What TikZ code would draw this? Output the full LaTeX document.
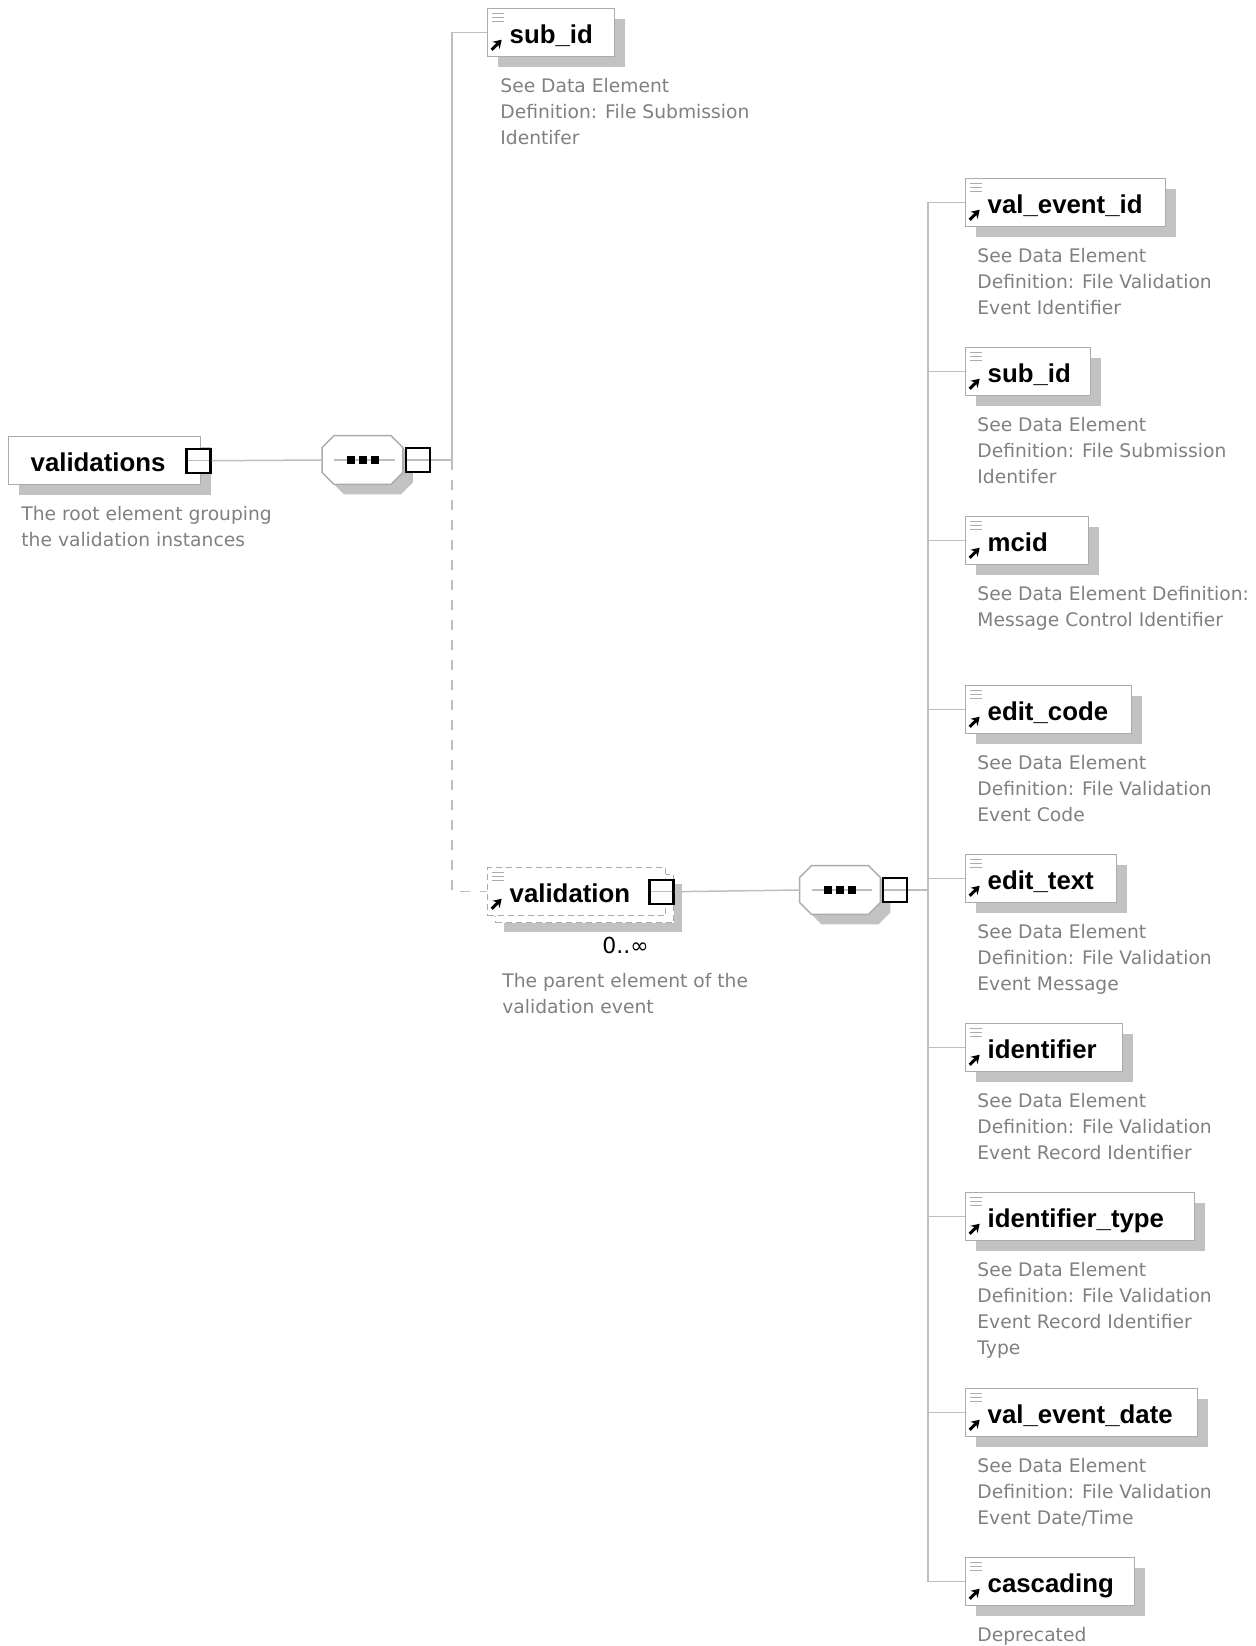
\documentclass[tikz,border=0pt]{standalone}
\usepackage{fontspec}
\setmainfont{DejaVu Sans}
\newfontfamily\lblfont{Liberation Sans}
\usepackage{tikz}
\usetikzlibrary{calc}
\usetikzlibrary{arrows.meta,shadows}
\usetikzlibrary{positioning}
\definecolor{linegray}{HTML}{BEBEBE}
\definecolor{boxgray}{HTML}{ABABAB}
\definecolor{shadowgray}{HTML}{C2C2C2}
\definecolor{descgray}{HTML}{808080}
\newcommand{\descfont}{\fontsize{9.35pt}{13pt}\selectfont}
\newcommand{\elemfont}{\lblfont\bfseries\fontsize{12.9pt}{15pt}\selectfont}
% octagon of a sequence compositor, drawn round an empty node
\newcommand{\seqdraw}[1]{%
  \fill[shadowgray, transform canvas={shift={(5pt,-5pt)}}]
    ([xshift=6pt]#1.north west) -- ([xshift=-6pt]#1.north east) -- ([yshift=-6pt]#1.north east)
    -- ([yshift=6pt]#1.south east) -- ([xshift=-6pt]#1.south east) -- ([xshift=6pt]#1.south west)
    -- ([yshift=6pt]#1.south west) -- ([yshift=-6pt]#1.north west) -- cycle;
  \draw[boxgray, line width=0.7pt, fill=white]
    ([xshift=6pt]#1.north west) -- ([xshift=-6pt]#1.north east) -- ([yshift=-6pt]#1.north east)
    -- ([yshift=6pt]#1.south east) -- ([xshift=-6pt]#1.south east) -- ([xshift=6pt]#1.south west)
    -- ([yshift=6pt]#1.south west) -- ([yshift=-6pt]#1.north west) -- cycle;
  \draw[linegray, line width=0.6pt] ([xshift=6pt]#1.west) -- ([xshift=-4pt]#1.east);
  \foreach \dx in {-16,-4,8}
    \fill[black] ([shift={(\dx,-4)}]#1.center) rectangle ++(8,8);
}

\tikzset{
  conn/.style={linegray, line width=0.75pt},
  elembase/.style={draw=boxgray, line width=0.7pt, fill=white, anchor=north west,
    minimum height=24pt, inner xsep=11pt, inner ysep=0pt, text width=#1, align=left,
    text height=13pt, text depth=2.5pt, font=\elemfont},
  elembox/.style={elembase=#1,
    drop shadow={shadow xshift=5pt, shadow yshift=-5pt, fill=shadowgray, opacity=1}},
  icons/.style={path picture={
      \foreach \dy in {5,9,13}
        \draw[boxgray, line width=0.6pt, solid]
          ([shift={(4,\dy)}]path picture bounding box.north west) -- ++(12,0);
      \draw[black, line width=1.5pt, solid, -{Stealth[length=4pt,width=5pt]}]
        ([shift={(4,41)}]path picture bounding box.north west) -- ++(10,-10);}},
  refbox/.style={elembox=#1, icons},
  multibox/.style={elembase=#1, icons, dash pattern=on 3pt off 2pt,
    drop shadow={shadow xshift=8pt, shadow yshift=-8pt, fill=shadowgray, opacity=1},
    copy shadow={shadow xshift=4pt, shadow yshift=-3.5pt, draw=boxgray, fill=white,
      line width=0.7pt, dash pattern=on 3pt off 2pt}},
  xsq/.style={draw=black, line width=1.2pt, fill=white, minimum size=12pt, inner sep=0pt,
    path picture={\draw[linegray, line width=0.6pt, solid]
      (path picture bounding box.west) -- (path picture bounding box.east);}},
  seqbox/.style={minimum width=40pt, minimum height=24pt, inner sep=0pt},
  descr/.style={anchor=north west, inner sep=0pt, align=left, font=\descfont, text=descgray}
}

\begin{document}
\begin{tikzpicture}[x=0.5pt, y=-0.5pt]
\useasboundingbox (0,0) rectangle (1256,1646);

% root element
\node[elembox=74pt] (validations) at (8,436) {validations};
\node[xsq] (validations-sq) at ([xshift=-1.5pt]validations.east) {};
\node[descr] (validations-d) at ([shift={(13,70)}]validations.north west)
  {The root element grouping\\the validation instances};

\node[seqbox] (seqA) at (362.5,460) {};
\seqdraw{seqA}
\node[xsq] (seqA-sq) at ([xshift=7.5pt]seqA.east) {};
\draw[conn] (validations-sq.east) -- (seqA.west);

\node[refbox=41.5pt] (subidA) at (487,8) {sub\_id};
\node[descr] (subidA-d) at ([shift={(13,70)}]subidA.north west)
  {See Data Element\\Definition: File Submission\\Identifer};

\node[multibox=67pt] (validation) at (487,867) {validation};
\node[xsq] (validation-sq) at ([xshift=-2.5pt]validation.east) {};
\node[anchor=base east, inner sep=0pt, font=\fontsize{11pt}{13pt}\selectfont] (validation-occ)
  at ([shift={(162,86)}]validation.north west) {0..∞};
\node[descr] (validation-d) at ([shift={(15,106)}]validation.north west)
  {The parent element of the\\validation event};

\coordinate (forkA) at (452,460);
\draw[conn] (seqA-sq.east) -- (forkA);
\draw[conn] (forkA) |- (subidA.west);
\draw[conn, dash pattern=on 5pt off 5pt] (forkA) |- (validation.west);

% sequence of the validation event
\node[seqbox] (seqB) at (840,890) {};
\seqdraw{seqB}
\node[xsq] (seqB-sq) at ([xshift=7.25pt]seqB.east) {};
\draw[conn] (validation-sq.east) -- (seqB.west);
\coordinate (forkB) at (928,890);
\draw[conn] (seqB-sq.east) -- (forkB);

\foreach \nm/\lbl/\ytop/\w/\dsc in {
  valeventid/val\_event\_id/178/200/{See Data Element\\Definition: File Validation\\Event Identifier},
  subidB/sub\_id/347/125/{See Data Element\\Definition: File Submission\\Identifer},
  mcid/mcid/516/123/{See Data Element Definition:\\Message Control Identifier},
  editcode/edit\_code/685/166/{See Data Element\\Definition: File Validation\\Event Code},
  edittext/edit\_text/854/151/{See Data Element\\Definition: File Validation\\Event Message},
  identifier/identifier/1023/157/{See Data Element\\Definition: File Validation\\Event Record Identifier},
  identifiertype/identifier\_type/1192/229/{See Data Element\\Definition: File Validation\\Event Record Identifier\\Type},
  valeventdate/val\_event\_date/1388/232/{See Data Element\\Definition: File Validation\\Event Date/Time},
  cascading/cascading/1557/169/{Deprecated}}
{
  \pgfmathsetmacro{\tw}{(\w-44)/2}
  \node[refbox=\tw pt] (\nm) at (965,\ytop) {\lbl};
  \node[descr] (\nm-d) at ([shift={(12,69.5)}]\nm.north west) {\dsc};
  \draw[conn] (forkB) |- (\nm.west);
}
\end{tikzpicture}
\end{document}
